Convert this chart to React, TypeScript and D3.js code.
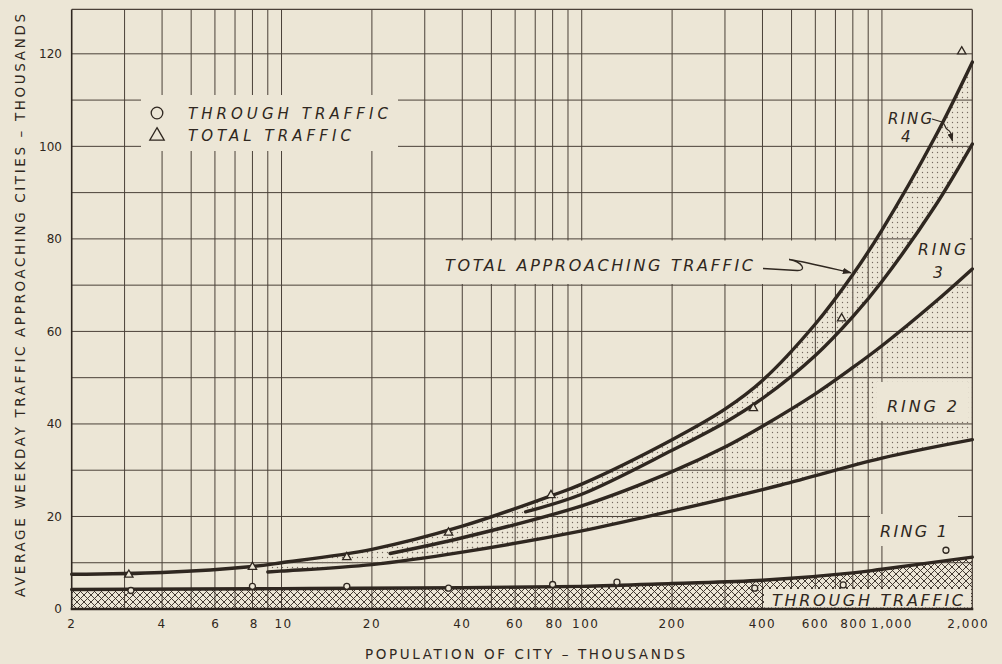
import React from 'react';
import * as d3 from 'd3';

// Population of city (thousands) and average weekday traffic (thousands)
const totalPop = [2, 4, 8, 10, 20, 40, 80, 100, 200, 300, 400, 600, 800, 1000, 1500, 2000];
const totalVal = [7.5, 7.9, 9.2, 10.0, 12.9, 17.9, 24.6, 27.0, 36.6, 43.2, 49.4, 61.6, 72.3, 81.9, 101.9, 118.2];

const ring34Pop = [65, 100, 200, 300, 400, 600, 800, 1000, 1500, 2000];
const ring34Val = [21.0, 24.8, 34.3, 40.3, 45.5, 54.8, 63.2, 70.8, 87.0, 100.5];

const ring23Pop = [23, 40, 100, 200, 300, 400, 600, 800, 1000, 1500, 2000];
const ring23Val = [12.0, 15.4, 22.3, 29.7, 35.0, 39.5, 46.5, 52.2, 56.9, 66.3, 73.5];

const ring12Pop = [9, 10, 20, 40, 100, 200, 460, 1000, 2000];
const ring12Val = [8.0, 8.2, 9.6, 12.3, 16.9, 21.2, 26.8, 32.6, 36.6];

const throughPop = [2, 10, 40, 100, 200, 400, 800, 1000, 2000];
const throughVal = [4.2, 4.4, 4.6, 4.9, 5.5, 6.2, 7.8, 8.6, 11.2];

// Observed city values
const obsThroughPop = [3.15, 8, 16.5, 36, 80, 131, 377, 743, 1634];
const obsThroughVal = [4.0, 4.9, 4.9, 4.5, 5.3, 5.8, 4.5, 5.2, 12.7];
const obsTotalPop = [3.1, 8, 16.5, 36, 79, 373, 734, 1844];
const obsTotalVal = [7.4, 9.1, 11.2, 16.5, 24.6, 43.4, 62.8, 120.5];

// Axis ticks and grid
const xTickVals = [2, 4, 6, 8, 10, 20, 40, 60, 80, 100, 200, 400, 600, 800, 1000, 2000];
const xTickText = ['2', '4', '6', '8', '10', '20', '40', '60', '80', '100', '200', '400', '600', '800', '1,000', '2,000'];
const xTickNudge = [0, 0, 1, 2, 2, 0, 0, 0, 2, 4, 0, 0, 0, 1, 10, -4];
const xGridVals = [3, 4, 5, 6, 7, 8, 9, 10, 20, 30, 40, 50, 60, 70, 80, 90, 100, 200, 300, 400, 500, 600, 700, 800, 900, 1000];
const yTickVals = [0, 20, 40, 60, 80, 100, 120];
const yGridVals = [10, 20, 30, 40, 50, 60, 70, 80, 90, 100, 110, 120];

const BG = '#ece6d6';
const INK = '#2f2720';
const GRID = '#4a4038';
const FONT = '"DejaVu Sans", "Liberation Sans", sans-serif';

type P = [number, number];
const zip = (ps: number[], vs: number[]): P[] => ps.map((p, i) => [p, vs[i]] as P);

export default function App() {
  const Y_TOP = 129.6;
  const x = d3.scaleLog().domain([2, 2000]).range([71.7, 972.3]);
  const y = d3.scaleLinear().domain([0, Y_TOP]).range([609, 9.4]);

  const total = zip(totalPop, totalVal);
  const r34 = zip(ring34Pop, ring34Val);
  const r23 = zip(ring23Pop, ring23Val);
  const r12 = zip(ring12Pop, ring12Val);
  const thru = zip(throughPop, throughVal);

  const smooth = d3.curveCatmullRom.alpha(0.5);
  const line = d3.line<P>().x(d => x(d[0])).y(d => y(d[1])).curve(smooth);
  const below = d3.area<P>().x(d => x(d[0])).y0(y(0)).y1(d => y(d[1])).curve(smooth);
  const above = d3.area<P>().x(d => x(d[0])).y0(y(Y_TOP)).y1(d => y(d[1])).curve(smooth);

  const tri = d3.symbol().type(d3.symbolTriangle).size(30)();
  const triLegend = d3.symbol().type(d3.symbolTriangle).size(90)();

  const x0 = x(2), x1 = x(2000), yb = y(0), yt = y(Y_TOP);

  // paper-coloured patches that sit behind the lettering
  const boxes = [
    { x: 141, y: 95, w: 257, h: 56 },
    { x: 427, y: 240.5, w: 411, h: 43.5 },
    { x: 912, y: 236, w: 58, h: 47 },
    { x: 877, y: 382, w: 91, h: 39 },
    { x: 870, y: 514, w: 88, h: 32 },
    { x: 764, y: 589, w: 207, h: 18.5 },
  ];

  const italic = { fontFamily: FONT, fontStyle: 'italic' as const, fill: INK };

  return (
    <svg width={1002} height={664} style={{ position: 'absolute', left: 0, top: 0, display: 'block' }}>
      <defs>
        <pattern id="xhatch" width="7" height="7" patternUnits="userSpaceOnUse">
          <path d="M-1,-1 L8,8 M8,-1 L-1,8" stroke="#3a3029" strokeWidth="0.95" />
        </pattern>
        <pattern id="stipple" width="5" height="5" patternUnits="userSpaceOnUse">
          <circle cx="2.5" cy="2.5" r="0.7" fill="#766b61" />
        </pattern>
        <clipPath id="aboveR12"><path d={above(r12) || ''} /></clipPath>
        <clipPath id="aboveR34"><path d={above(r34) || ''} /></clipPath>
        <clipPath id="leftStrip"><rect x={x(9)} y={yt} width={x(65) - x(9)} height={yb - yt} /></clipPath>
        <marker id="arrow" viewBox="0 0 10 10" refX="9" refY="5" markerWidth="7" markerHeight="7" orient="auto">
          <path d="M0,1.5 L10,5 L0,8.5 Z" fill={INK} />
        </marker>
      </defs>

      <rect x={0} y={0} width={1002} height={664} fill={BG} />

      {/* grid */}
      <g stroke={GRID} strokeWidth={1}>
        {xGridVals.map(v => (
          <line key={'gx' + v} x1={x(v)} x2={x(v)} y1={yt} y2={yb} />
        ))}
        {yGridVals.map(v => (
          <line key={'gy' + v} x1={x0} x2={x1} y1={y(v)} y2={y(v)} />
        ))}
      </g>

      {/* stippled bands */}
      <g clipPath="url(#aboveR12)">
        <g clipPath="url(#leftStrip)">
          <path d={below(total) || ''} fill="url(#stipple)" />
        </g>
      </g>
      <g clipPath="url(#aboveR34)">
        <path d={below(total) || ''} fill="url(#stipple)" />
      </g>
      <g clipPath="url(#aboveR12)">
        <path d={below(r23) || ''} fill="url(#stipple)" />
      </g>

      {/* through traffic cross-hatch */}
      <path d={below(thru) || ''} fill="url(#xhatch)" />

      {boxes.map((b, i) => (
        <rect key={'b' + i} x={b.x} y={b.y} width={b.w} height={b.h} fill={BG} />
      ))}

      {/* frame */}
      <line x1={x0} x2={x1} y1={yt} y2={yt} stroke={GRID} strokeWidth={1.3} />
      <line x1={x1} x2={x1} y1={yt} y2={yb} stroke={GRID} strokeWidth={1.3} />
      <line x1={x0} x2={x0} y1={yt} y2={yb} stroke={INK} strokeWidth={1.6} />
      <line x1={x0 - 1} x2={x1 + 1} y1={yb} y2={yb} stroke={INK} strokeWidth={2.4} />

      {/* curves */}
      <g fill="none" stroke={INK} strokeWidth={3.4} strokeLinecap="round">
        <path d={line(total) || ''} />
        <path d={line(r34) || ''} />
        <path d={line(r23) || ''} />
        <path d={line(r12) || ''} />
        <path d={line(thru) || ''} />
      </g>

      {/* observations */}
      <g fill={BG} stroke={INK} strokeWidth={1.3}>
        {obsThroughPop.map((p, i) => (
          <circle key={'oc' + i} cx={x(p)} cy={y(obsThroughVal[i])} r={3} />
        ))}
        {obsTotalPop.map((p, i) => (
          <path key={'ot' + i} d={tri || ''} transform={`translate(${x(p)},${y(obsTotalVal[i])})`} />
        ))}
      </g>

      {/* legend */}
      <circle cx={157} cy={113} r={5.8} fill="none" stroke={INK} strokeWidth={1.3} />
      <path d={triLegend || ''} transform="translate(157,136)" fill="none" stroke={INK} strokeWidth={1.3} />
      <text x={188} y={119} fontSize={15} textLength={200} lengthAdjust="spacing" {...italic}>THROUGH TRAFFIC</text>
      <text x={188} y={141} fontSize={15} textLength={163} lengthAdjust="spacing" {...italic}>TOTAL TRAFFIC</text>

      {/* band labels */}
      <text x={445} y={271} fontSize={16} textLength={308} lengthAdjust="spacing" {...italic}>TOTAL APPROACHING TRAFFIC</text>
      <path d="M763,268.5 L797,270.5 C807,271 803,262 789,259.5 C806,262 830,268 851,272.8"
        fill="none" stroke={INK} strokeWidth={1.3} markerEnd="url(#arrow)" />

      <text fontSize={15} {...italic}>
        <tspan x={888} y={124} textLength={44} lengthAdjust="spacing">RING</tspan>
        <tspan x={901} y={142}>4</tspan>
      </text>
      <path d="M932,119 L942,122 C946,124 944,128 948,130 C952,132 951,136 952.5,141"
        fill="none" stroke={INK} strokeWidth={1.2} markerEnd="url(#arrow)" />

      <text fontSize={15.5} {...italic}>
        <tspan x={918} y={255} textLength={48} lengthAdjust="spacing">RING</tspan>
        <tspan x={933} y={278}>3</tspan>
      </text>

      <text x={887} y={411.5} fontSize={16} textLength={70} lengthAdjust="spacing" {...italic}>RING 2</text>
      <text x={880} y={536.5} fontSize={16} textLength={67} lengthAdjust="spacing" {...italic}>RING 1</text>
      <text x={772} y={605.5} fontSize={16} textLength={191} lengthAdjust="spacing" {...italic}>THROUGH TRAFFIC</text>

      {/* y axis */}
      <g fontFamily={FONT} fontSize={12} fill={INK} textAnchor="end">
        {yTickVals.map(v => (
          <text key={'yt' + v} x={62} y={y(v)} dy="0.36em">{v}</text>
        ))}
      </g>
      <text transform="translate(25,305.5) rotate(-90)" textAnchor="middle" fontFamily={FONT} fontSize={13.5}
        fill={INK} textLength={583} lengthAdjust="spacing">
        AVERAGE WEEKDAY TRAFFIC APPROACHING CITIES – THOUSANDS
      </text>

      {/* x axis */}
      <g fontFamily={FONT} fontSize={12} fill={INK} textAnchor="middle" letterSpacing={1.5}>
        {xTickVals.map((v, i) => (
          <text key={'xt' + v} x={x(v) + xTickNudge[i]} y={628}>{xTickText[i]}</text>
        ))}
      </g>
      <text x={525} y={659} textAnchor="middle" fontFamily={FONT} fontSize={13.5} fill={INK}
        textLength={320} lengthAdjust="spacing">
        POPULATION OF CITY – THOUSANDS
      </text>
    </svg>
  );
}
